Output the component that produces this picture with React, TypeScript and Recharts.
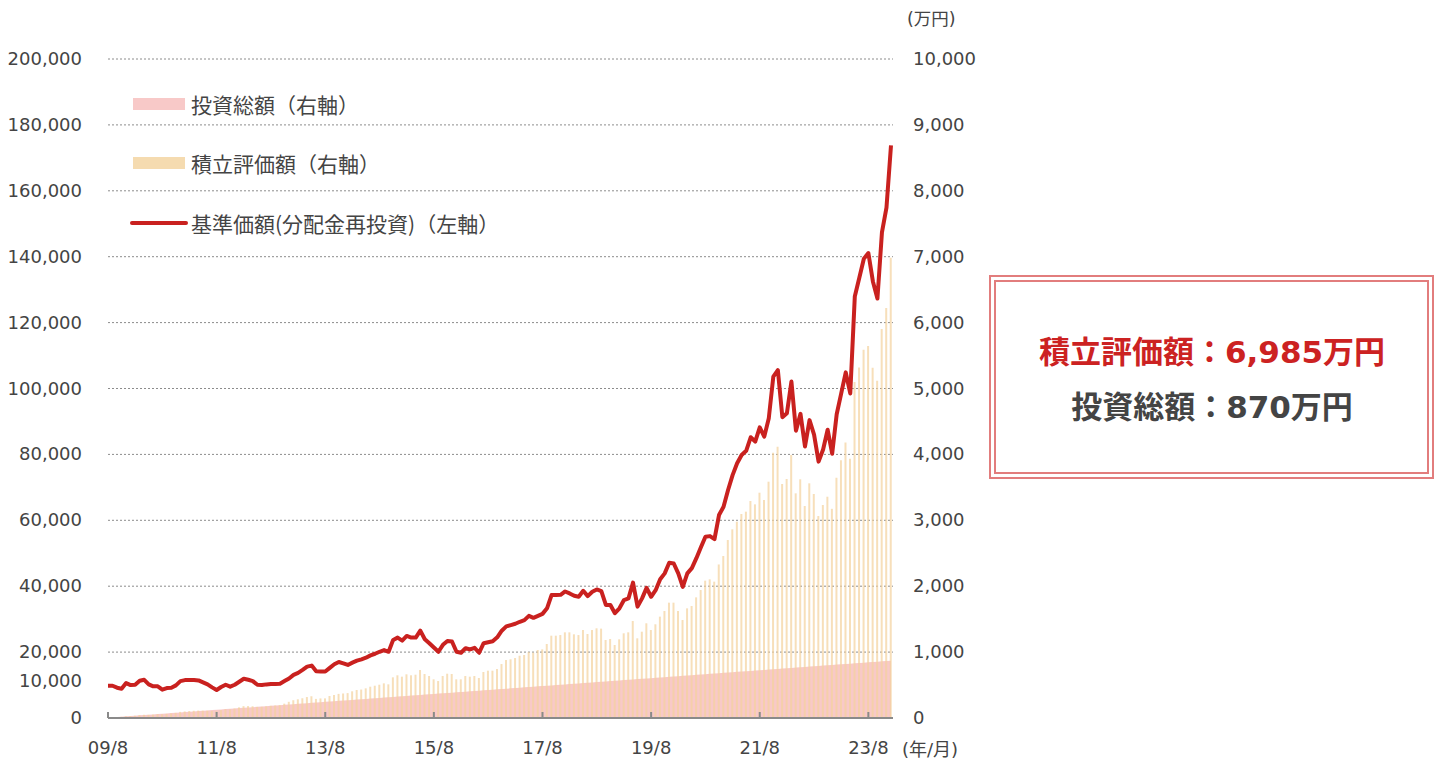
import { ComposedChart, Area, Bar, Line, XAxis, YAxis, CartesianGrid } from 'recharts'

// 月次データ 2009/8 〜 2024/1（毎月5万円積立）
const price = [
  9800, 9800, 9200, 8900, 10600, 10000, 10100, 11300, 11600, 10200,
  9600, 9600, 8600, 9100, 9200, 9900, 11200, 11500, 11500, 11500,
  11400, 10800, 10200, 9300, 8500, 9400, 10100, 9500, 10100, 11000,
  11900, 11600, 11200, 10100, 10000, 10200, 10300, 10300, 10400, 11200,
  12000, 13100, 13700, 14600, 15600, 15900, 14200, 14100, 14100, 15200,
  16300, 17000, 16600, 16100, 16800, 17400, 17800, 18300, 19000, 19500,
  20100, 20600, 20100, 23700, 24400, 23500, 24900, 24400, 24400, 26500,
  23900, 22700, 21400, 20100, 22200, 23400, 23200, 20100, 19800, 21200,
  20800, 21300, 19800, 22700, 23000, 23300, 24500, 26500, 27800, 28200,
  28600, 29200, 29700, 31000, 30400, 31000, 31600, 33300, 37300, 37300,
  37400, 38400, 37800, 37100, 36800, 38600, 37000, 38300, 39000, 38500,
  34300, 34300, 31800, 33300, 35800, 36300, 41100, 33800, 36300, 39500,
  36800, 38800, 42100, 43900, 47100, 46900, 43900, 39800, 43900, 45500,
  48500, 51800, 55000, 55200, 54300, 61600, 64100, 69200, 73700, 77300,
  79800, 81100, 85200, 83900, 88200, 85400, 91000, 103600, 105600, 91300,
  92500, 102100, 87200, 92300, 82400, 90400, 86000, 77800, 81500, 87500,
  80200, 92200, 98500, 104900, 98500, 127900, 133600, 139400, 141100, 132500,
  127300, 147400, 154900, 173800,
]

// 積立評価額（万円）
const valuation = [
  5, 10, 14, 19, 26, 30, 35, 43, 49, 48,
  51, 56, 55, 63, 69, 78, 93, 100, 105, 110,
  113, 112, 111, 106, 102, 118, 132, 130, 144, 162,
  180, 181, 178, 168, 170, 178, 185, 190, 196, 218,
  246, 270, 284, 300, 318, 330, 290, 297, 298, 334,
  349, 366, 372, 378, 405, 425, 432, 450, 475, 490,
  505, 526, 511, 617, 648, 627, 663, 648, 657, 728,
  668, 637, 587, 561, 637, 672, 668, 587, 587, 637,
  627, 637, 607, 698, 718, 718, 743, 819, 880, 891,
  910, 945, 956, 1000, 991, 1032, 1042, 1123, 1249, 1249,
  1259, 1300, 1300, 1270, 1259, 1335, 1275, 1335, 1361, 1356,
  1184, 1199, 1108, 1194, 1285, 1300, 1472, 1209, 1310, 1437,
  1335, 1422, 1538, 1624, 1750, 1750, 1624, 1487, 1664, 1700,
  1831, 1942, 2084, 2104, 2069, 2330, 2458, 2701, 2863, 2979,
  3096, 3131, 3293, 3242, 3419, 3308, 3586, 4026, 4117, 3551,
  3627, 3991, 3409, 3622, 3217, 3561, 3399, 3065, 3232, 3358,
  3174, 3646, 3910, 4181, 3933, 5100, 5319, 5589, 5646, 5313,
  5117, 5904, 6222, 6985,
]

// 投資総額（万円）
const invested = [
  5, 10, 15, 20, 25, 30, 35, 40, 45, 50,
  55, 60, 65, 70, 75, 80, 85, 90, 95, 100,
  105, 110, 115, 120, 125, 130, 135, 140, 145, 150,
  155, 160, 165, 170, 175, 180, 185, 190, 195, 200,
  205, 210, 215, 220, 225, 230, 235, 240, 245, 250,
  255, 260, 265, 270, 275, 280, 285, 290, 295, 300,
  305, 310, 315, 320, 325, 330, 335, 340, 345, 350,
  355, 360, 365, 370, 375, 380, 385, 390, 395, 400,
  405, 410, 415, 420, 425, 430, 435, 440, 445, 450,
  455, 460, 465, 470, 475, 480, 485, 490, 495, 500,
  505, 510, 515, 520, 525, 530, 535, 540, 545, 550,
  555, 560, 565, 570, 575, 580, 585, 590, 595, 600,
  605, 610, 615, 620, 625, 630, 635, 640, 645, 650,
  655, 660, 665, 670, 675, 680, 685, 690, 695, 700,
  705, 710, 715, 720, 725, 730, 735, 740, 745, 750,
  755, 760, 765, 770, 775, 780, 785, 790, 795, 800,
  805, 810, 815, 820, 825, 830, 835, 840, 845, 850,
  855, 860, 865, 870,
]

const xTickIdx = [0, 24, 48, 72, 96, 120, 144, 168]
const xTickLabels = ['09/8', '11/8', '13/8', '15/8', '17/8', '19/8', '21/8', '23/8']
const leftTicks = [0, 10000, 20000, 40000, 60000, 80000, 100000, 120000, 140000, 160000, 180000, 200000]
const rightTicks = [0, 1000, 2000, 3000, 4000, 5000, 6000, 7000, 8000, 9000, 10000]

const data = price.map((p, i) => ({ i, price: p, value: valuation[i], invested: invested[i] }))

const NUM_FONT = '"DejaVu Sans", "Noto Sans CJK JP", sans-serif'
const JP_FONT = '"Noto Sans CJK JP", sans-serif'
const TXT = '#444'
const RED = '#c9211f'
const PINK = '#f8c9c8'
const BEIGE = '#f3d19c'

const XTick = (props: any) => {
  const { x, y, index } = props
  return (
    <g>
      <line x1={x} x2={x} y1={y - 6} y2={y} stroke="#8a8a8a" strokeWidth={2} />
      <text x={x} y={y + 36} textAnchor="middle" fill={TXT} fontSize={18} fontFamily={NUM_FONT}>
        {xTickLabels[index]}
      </text>
    </g>
  )
}

const LeftTick = (props: any) => {
  const { x, y, payload } = props
  const shift = payload.value === 10000 ? -4 : 0
  return (
    <text x={x} y={y + shift} dy={6} textAnchor="end" fill={TXT} fontSize={18} fontFamily={NUM_FONT}>
      {payload.value.toLocaleString('en-US')}
    </text>
  )
}

const RightTick = (props: any) => {
  const { x, y, payload } = props
  return (
    <text x={x} y={y} dy={6} textAnchor="start" fill={TXT} fontSize={18} fontFamily={NUM_FONT}>
      {payload.value.toLocaleString('en-US')}
    </text>
  )
}

export default function App() {
  return (
    <div style={{ position: 'absolute', left: 0, top: 0, width: 1445, height: 758, background: '#fff' }}>
      <ComposedChart
        width={1000}
        height={758}
        data={data}
        margin={{ top: 59, right: 7, left: 8, bottom: 0 }}
      >
        <CartesianGrid yAxisId="right" vertical={false} stroke="#8c8c8c" strokeDasharray="2 2" />
        <XAxis
          dataKey="i"
          type="number"
          domain={[0, 173]}
          ticks={xTickIdx}
          interval={0}
          height={40}
          padding={{ left: 0, right: 2 }}
          axisLine={{ stroke: '#8a8a8a', strokeWidth: 2 }}
          tickLine={false}
          tickSize={0}
          tickMargin={0}
          tick={<XTick />}
        />
        <YAxis
          yAxisId="left"
          width={100}
          domain={[0, 200000]}
          ticks={leftTicks}
          interval={0}
          axisLine={false}
          tickLine={false}
          tickSize={0}
          tickMargin={26}
          tick={<LeftTick />}
        />
        <YAxis
          yAxisId="right"
          orientation="right"
          width={100}
          domain={[0, 10000]}
          ticks={rightTicks}
          interval={0}
          axisLine={false}
          tickLine={false}
          tickSize={0}
          tickMargin={20}
          tick={<RightTick />}
        />
        <Area
          yAxisId="right"
          dataKey="invested"
          type="linear"
          stroke="none"
          fill={PINK}
          fillOpacity={1}
          isAnimationActive={false}
        />
        <Bar yAxisId="right" dataKey="value" barSize={2} fill={BEIGE} fillOpacity={0.7} isAnimationActive={false} />
        <Line
          yAxisId="left"
          dataKey="price"
          type="linear"
          stroke={RED}
          strokeWidth={4}
          strokeLinejoin="round"
          dot={false}
          activeDot={false}
          isAnimationActive={false}
        />
      </ComposedChart>

      <svg
        width={1445}
        height={758}
        style={{ position: 'absolute', left: 0, top: 0, pointerEvents: 'none' }}
      >
        <text x={907} y={19} dominantBaseline="central" fill={TXT} fontSize={17.5} fontFamily={NUM_FONT}>(万円)</text>
        <text x={902} y={749} dominantBaseline="central" fill={TXT} fontSize={18} fontFamily={NUM_FONT}>(年/月)</text>

        <rect x={133} y={98} width={52} height={12} fill={PINK} />
        <text x={191} y={104} dominantBaseline="central" fill={TXT} fontSize={21} fontFamily={JP_FONT}>投資総額（右軸）</text>
        <rect x={133} y={157} width={52} height={12} fill="#f5dbb0" />
        <text x={191} y={163} dominantBaseline="central" fill={TXT} fontSize={21} fontFamily={JP_FONT}>積立評価額（右軸）</text>
        <line x1={132} x2={186} y1={223} y2={223} stroke={RED} strokeWidth={4} strokeLinecap="round" />
        <text x={191} y={223} dominantBaseline="central" fill={TXT} fontSize={21} fontFamily={JP_FONT}>基準価額(分配金再投資)（左軸）</text>

        <rect x={990} y={276} width={443} height={202} fill="#fff" stroke="#e27d7d" strokeWidth={2} />
        <rect x={995} y={281} width={433} height={192} fill="none" stroke="#e27d7d" strokeWidth={2} />
        <text x={1212} y={352} textAnchor="middle" dominantBaseline="central" fill="#cc2222" fontSize={31} fontWeight="bold" fontFamily={NUM_FONT}>積立評価額：6,985万円</text>
        <text x={1212} y={407} textAnchor="middle" dominantBaseline="central" fill={TXT} fontSize={31} fontWeight="bold" fontFamily={NUM_FONT}>投資総額：870万円</text>
      </svg>
    </div>
  )
}
